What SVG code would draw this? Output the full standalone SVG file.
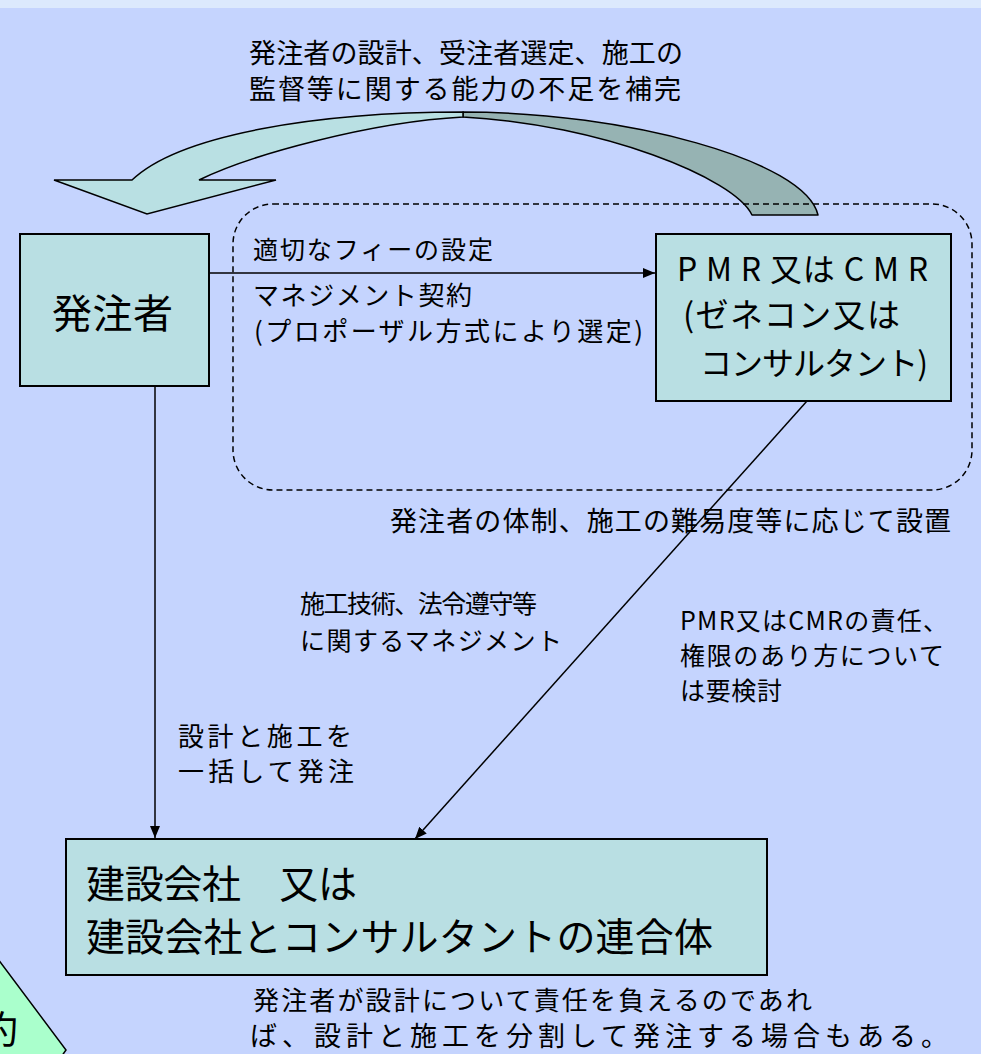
<svg xmlns="http://www.w3.org/2000/svg" width="981" height="1054" viewBox="0 0 981 1054">
<defs>
<style>
text{font-family:"Noto Sans CJK JP","Noto Sans",sans-serif;fill:#000}
.box{fill:#b9dfe3;stroke:#000;stroke-width:2}
.con{stroke:#000;stroke-width:1.5;fill:none}
</style>
<marker id="ah" viewBox="0 0 12 10" refX="12" refY="5" markerWidth="12" markerHeight="10" markerUnits="userSpaceOnUse" orient="auto">
<path d="M0,0 L12,5 L0,10 Z" fill="#000"/>
</marker>
</defs>
<rect x="0" y="0" width="981" height="1054" fill="#c5d4fe"/>
<rect x="0" y="0" width="981" height="8" fill="#dce9fd"/>

<g id="curved-arrow">
<path d="M463,112 C625,112 805,160 818,215 L752,215 C735,178 600,124 463,117 Z" fill="#96b3b3" stroke="#000" stroke-width="1.5" stroke-linejoin="round"/>
<path d="M132,180 C180,134 320,112 463,112 L463,117 C370,122 250,155 199,180 L276,180 L147,214 L54,180 Z" fill="#b9e0e3" stroke="#000" stroke-width="1.5" stroke-linejoin="miter"/>
</g>

<g id="top-label">
<text x="249" y="63" font-size="27" textLength="434" lengthAdjust="spacing">発注者の設計、受注者選定、施工の</text>
<text x="249" y="99" font-size="27" textLength="432" lengthAdjust="spacing">監督等に関する能力の不足を補完</text>
</g>

<g id="management-zone">
<rect x="233" y="204" width="739" height="286" rx="40" ry="40" fill="none" stroke="#000" stroke-width="1.5" stroke-dasharray="6,4"/>
<text x="390" y="531" font-size="27" textLength="561" lengthAdjust="spacing">発注者の体制、施工の難易度等に応じて設置</text>
</g>

<g id="connectors">
<line class="con" x1="209" y1="273" x2="655" y2="273" marker-end="url(#ah)"/>
<line class="con" x1="155" y1="386" x2="155" y2="838" marker-end="url(#ah)"/>
<line class="con" x1="807" y1="401" x2="415" y2="839" marker-end="url(#ah)"/>
</g>

<g id="orderer">
<rect class="box" x="20" y="234" width="189" height="152"/>
<text x="52" y="328" font-size="40" textLength="121" lengthAdjust="spacing">発注者</text>
</g>

<g id="pmr-cmr">
<rect class="box" x="656" y="234" width="295" height="167"/>
<text x="677" y="281" font-size="32" textLength="251" lengthAdjust="spacing">P M R 又は C M R</text>
<text x="683" y="327" font-size="33" textLength="217" lengthAdjust="spacing">(ゼネコン又は</text>
<text x="700" y="375" font-size="32" textLength="228" lengthAdjust="spacing">コンサルタント)</text>
</g>

<g id="contract-labels">
<text x="253" y="259" font-size="25" textLength="240" lengthAdjust="spacing">適切なフィーの設定</text>
<text x="253" y="305" font-size="26" textLength="219" lengthAdjust="spacing">マネジメント契約</text>
<text x="254" y="341" font-size="26" textLength="389" lengthAdjust="spacing">(プロポーザル方式により選定)</text>
</g>

<g id="management-label">
<text x="300" y="613" font-size="25" textLength="237" lengthAdjust="spacing">施工技術、法令遵守等</text>
<text x="300" y="650" font-size="25" textLength="262" lengthAdjust="spacing">に関するマネジメント</text>
</g>

<g id="responsibility-label">
<text x="680" y="630" font-size="25" textLength="268" lengthAdjust="spacing">PMR又はCMRの責任、</text>
<text x="680" y="665" font-size="25" textLength="264" lengthAdjust="spacing">権限のあり方について</text>
<text x="680" y="700" font-size="25" textLength="102" lengthAdjust="spacing">は要検討</text>
</g>

<g id="design-build-label">
<text x="178" y="746" font-size="26" textLength="174" lengthAdjust="spacing">設計と施工を</text>
<text x="178" y="781" font-size="26" textLength="176" lengthAdjust="spacing">一括して発注</text>
</g>

<g id="contractor">
<rect class="box" x="66" y="839" width="701" height="136"/>
<text x="86" y="898" font-size="39" textLength="271" lengthAdjust="spacing">建設会社　又は</text>
<text x="86" y="951" font-size="39" textLength="627" lengthAdjust="spacing">建設会社とコンサルタントの連合体</text>
</g>

<g id="bottom-note">
<text x="253" y="1010" font-size="26" textLength="559" lengthAdjust="spacing">発注者が設計について責任を負えるのであれ</text>
<text x="250" y="1046" font-size="27" textLength="698" lengthAdjust="spacing">ば、設計と施工を分割して発注する場合もある。</text>
</g>

<g id="contract-tag">
<polygon points="-10,948.4 66,1050 52,1070 -10,1070" fill="#aaffcc" stroke="#000" stroke-width="1.5"/>
<text x="-20" y="1043" font-size="38">約</text>
</g>
</svg>
